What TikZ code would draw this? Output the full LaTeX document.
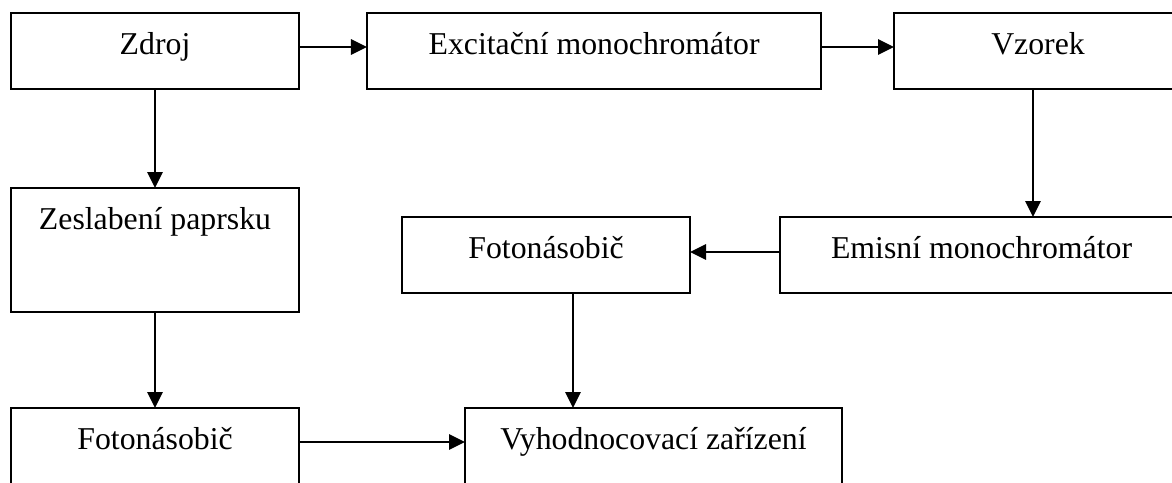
\documentclass[tikz,border=0pt]{standalone}
\usepackage{fontspec}
\setmainfont{Liberation Serif}
\usetikzlibrary{arrows.meta,calc}
\begin{document}
\begin{tikzpicture}[x=0.025cm, y=-0.025cm, line width=1.7pt, >={Triangle[length=0.4cm,width=0.38cm]},
	blok/.style={draw, rectangle, anchor=north west, inner sep=0pt, outer sep=0pt, minimum width=7.2cm,
		text height=1.025cm, text depth=0.875cm, font=\fontsize{22.6}{26}\selectfont}]
	\useasboundingbox (0,0) rectangle (1172,482);
	\clip (0,0) rectangle (1172,482);
	% horni rada
	\node[blok] (zdroj) at (11,13) {Zdroj};
	\node[blok, minimum width=11.35cm] (excit) at (367,13) {Excitační monochromátor};
	\node[blok] (vzorek) at (894,13) {Vzorek};
	% stredni rada
	\node[blok, text depth=2.075cm] (zeslab) at (11,188) {Zeslabení paprsku};
	\node[blok] (fotoB) at (402,217) {Fotonásobič};
	\node[blok, minimum width=10.075cm] (emis) at (780,217) {Emisní monochromátor};
	% dolni rada
	\node[blok, text depth=3cm] (fotoA) at (11,408) {Fotonásobič};
	\node[blok, minimum width=9.425cm, text depth=3cm] (vyhod) at (465,408) {Vyhodnocovací zařízení};
	% sipky
	\coordinate (z1) at ($(zdroj.north east)+(0,34)$);
	\coordinate (x1) at ($(excit.north east)+(0,34)$);
	\coordinate (v1) at ($(vzorek.south west)+(139,0)$);
	\coordinate (e1) at ($(emis.north west)+(0,35)$);
	\coordinate (f1) at ($(fotoB.south west)+(171,0)$);
	\coordinate (f2) at ($(fotoA.north east)+(0,34)$);
	\draw[->] (z1) -- (z1 -| excit.west);
	\draw[->] (x1) -- (x1 -| vzorek.west);
	\draw[->] (zdroj.south) -- (zeslab.north);
	\draw[->] (zeslab.south) -- (fotoA.north);
	\draw[->] (v1) -- (v1 |- emis.north);
	\draw[->] (e1) -- (e1 -| fotoB.east);
	\draw[->] (f1) -- (f1 |- vyhod.north);
	\draw[->] (f2) -- (f2 -| vyhod.west);
\end{tikzpicture}
\end{document}
